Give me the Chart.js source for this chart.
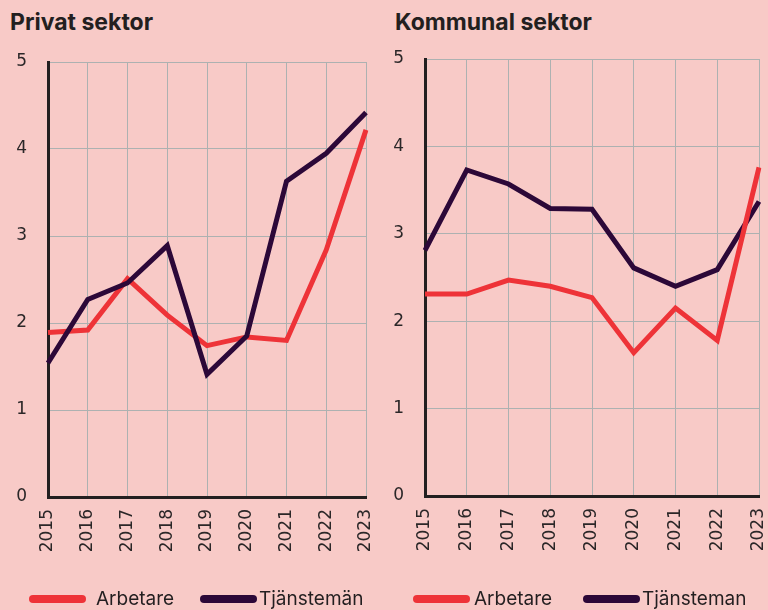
<!DOCTYPE html>
<html>
<head>
<meta charset="utf-8">
<script src="https://cdn.jsdelivr.net/npm/chart.js@4.4.1/dist/chart.umd.min.js"></script>
<style>
  html, body { margin: 0; padding: 0; background: #f8cac7; }
  body { width: 768px; height: 610px; position: relative; overflow: hidden; font-family: "Inter", sans-serif; color: #231f20; }
  .panel { position: absolute; top: 0; width: 384px; height: 610px; }
  .panel h2 { position: absolute; top: 7px; margin: 0; font-size: 23px; font-weight: 700; line-height: 30px; }
  .box { position: absolute; left: 0; top: 38px; width: 384px; height: 572px; }
  .sw { position: absolute; top: 595px; width: 57px; height: 8px; border-radius: 4px; }
  .lt { position: absolute; top: 587px; font-size: 19px; line-height: 24px; white-space: nowrap; }
</style>
</head>
<body>
<div class="panel" style="left:0">
  <h2 style="left:10px">Privat sektor</h2>
  <div class="box"><canvas id="privat"></canvas></div>
  <div class="sw" style="left:29px;background:#ee3338"></div><div class="lt" style="left:96px">Arbetare</div>
  <div class="sw" style="left:200px;background:#2c0838"></div><div class="lt" style="left:259px">Tjänstemän</div>
</div>
<div class="panel" style="left:384px">
  <h2 style="left:11px">Kommunal sektor</h2>
  <div class="box"><canvas id="kommunal"></canvas></div>
  <div class="sw" style="left:29px;background:#ee3338"></div><div class="lt" style="left:90px">Arbetare</div>
  <div class="sw" style="left:199px;background:#2c0838"></div><div class="lt" style="left:258px">Tjänsteman</div>
</div>
<script>
// ==============================
// DATA
// ==============================
const years = ["2015", "2016", "2017", "2018", "2019", "2020", "2021", "2022", "2023"];

const privatArbetare     = [1.89, 1.92, 2.51, 2.09, 1.74, 1.84, 1.80, 2.84, 4.22];
const privatTjanstemen   = [1.54, 2.27, 2.46, 2.89, 1.41, 1.85, 3.63, 3.95, 4.42];

const kommunalArbetare   = [2.31, 2.31, 2.47, 2.40, 2.27, 1.64, 2.15, 1.78, 3.76];
const kommunalTjanstemen = [2.81, 3.73, 3.57, 3.29, 3.28, 2.61, 2.40, 2.59, 3.37];

// ==============================
// STYLE
// ==============================
const RED  = "#ee3338";
const DARK = "#2c0838";
const GRID = "#adb1b1";
const AXIS = "#231f20";
const TICK_FONT = { family: "DejaVu Sans", size: 17 };

// layout: y axis width, paddings (so plot box sits where the original does)
function makeChart(id, redData, darkData, darkLabel, redOnTop, yWidth, pad){
    const ctx = document.getElementById(id).getContext("2d");
    return new Chart(ctx, {
        type: "line",
        data: {
            labels: years,
            datasets: [{
                label: "Arbetare",
                data: redData,
                borderColor: RED,
                backgroundColor: RED,
                borderWidth: 5,
                pointRadius: 0,
                tension: 0,
                order: redOnTop ? 1 : 2
            }, {
                label: darkLabel,
                data: darkData,
                borderColor: DARK,
                backgroundColor: DARK,
                borderWidth: 5,
                pointRadius: 0,
                tension: 0,
                order: redOnTop ? 2 : 1
            }]
        },
        options: {
            animation: false,
            responsive: true,
            maintainAspectRatio: false,
            layout: { padding: pad },
            plugins: {
                tooltip: { enabled: false },
                legend: { display: false }
            },
            scales: {
                x: {
                    offset: false,
                    grid: { color: GRID, lineWidth: 1, drawTicks: false },
                    border: { color: AXIS, width: 3 },
                    ticks: {
                        color: "#2b2728",
                        font: TICK_FONT,
                        minRotation: 90,
                        maxRotation: 90,
                        padding: 12
                    },
                    afterFit(scale){
                        scale.height = 60;
                        scale.paddingLeft = 0;
                        scale.paddingRight = 0;
                    }
                },
                y: {
                    min: 0,
                    max: 5,
                    grid: { color: GRID, lineWidth: 1, drawTicks: false },
                    border: { color: AXIS, width: 3 },
                    ticks: {
                        stepSize: 1,
                        color: "#2b2728",
                        font: TICK_FONT,
                        padding: 21
                    },
                    afterFit(scale){
                        scale.width = yWidth;
                        scale.paddingTop = 0;
                        scale.paddingBottom = 0;
                    }
                }
            }
        }
    });
}

// ==============================
// CHARTS
// ==============================
makeChart("privat", privatArbetare, privatTjanstemen, "Tjänstemän", false, 48,
    { top: 24, left: 0, right: 18, bottom: 53 });
makeChart("kommunal", kommunalArbetare, kommunalTjanstemen, "Tjänsteman", true, 41,
    { top: 21, left: 0, right: 9, bottom: 54 });
</script>
</body>
</html>
